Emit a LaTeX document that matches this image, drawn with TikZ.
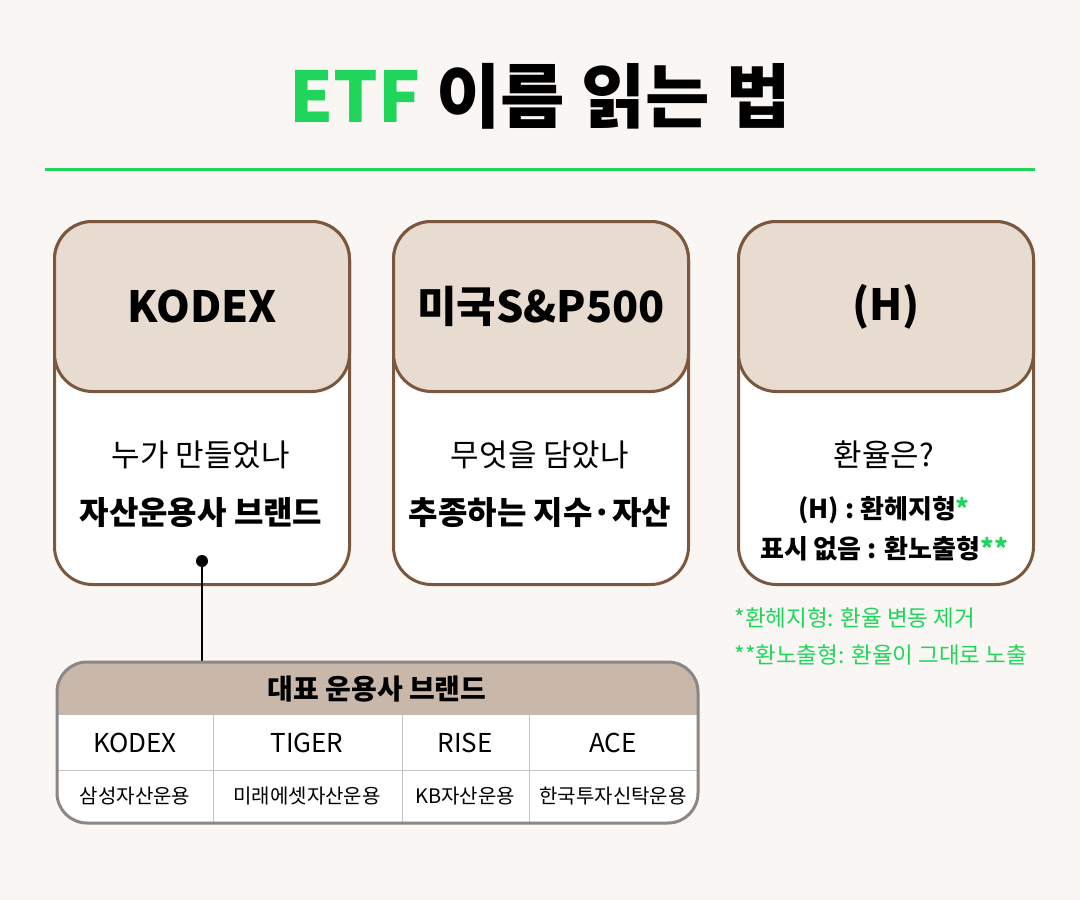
\documentclass[tikz,border=0pt]{standalone}
\usepackage{fontspec}
\setmainfont{Noto Sans CJK KR}
\newfontfamily\krblack{Noto Sans CJK KR Black}
\usetikzlibrary{positioning}
\definecolor{bgcol}{HTML}{FAF6F3}
\definecolor{etfgreen}{HTML}{1FD65A}
\definecolor{cardbrown}{HTML}{7A573D}
\definecolor{headfill}{HTML}{E8DBCF}
\definecolor{tabhead}{HTML}{C9B8AA}
\definecolor{tabline}{HTML}{8A8785}
\tikzset{
	card/.style = {draw = cardbrown, line width = 3pt, fill = white, rounded corners = 38pt, minimum width = 295pt, minimum height = 363pt, anchor = north west},
	head/.style = {draw = cardbrown, line width = 3pt, fill = headfill, rounded corners = 38pt, minimum width = 295pt, minimum height = 170pt, anchor = north west, font = \bfseries\fontsize{43}{48}\selectfont},
	ask/.style = {font = \fontsize{31}{34}\selectfont},
	ans/.style = {font = \bfseries\fontsize{32}{35}\selectfont},
	small/.style = {font = \bfseries\fontsize{26}{30}\selectfont},
	note/.style = {text = etfgreen, anchor = west, font = \fontsize{22.5}{26}\selectfont},
	cell/.style = {font = \fontsize{26}{30}\selectfont},
	subcell/.style = {font = \fontsize{20}{24}\selectfont},
}
\begin{document}
\begin{tikzpicture}[x = 1pt, y = -1pt]
	\fill[bgcol] (0,0) rectangle (1080,900);
	\useasboundingbox (0,0) rectangle (1080,900);
	% title
	\node (title) at (540,96) {\krblack\fontsize{70}{78}\selectfont\textcolor{etfgreen}{ETF} 이름 읽는 법};
	\coordinate (ruleL) at (45,169);
	\coordinate (ruleR) at (1035,169);
	\draw[etfgreen, line width = 3pt] (ruleL) -- (ruleR);
	% cards
	\node[card] (c1) at (53,220) {};
	\node[head] (h1) at (53,220) {KODEX};
	\node[card] (c2) at (392,220) {};
	\node[head] (h2) at (392,220) {미국S\&P500};
	\node[card] (c3) at (737,220) {};
	\node[head] (h3) at (737,220) {(H)};
	\node[ask] (q1) at (201,455) {누가 만들었나};
	\node[ans] (a1) at (201,513) {자산운용사 브랜드};
	\node[ask] (q2) at (540,455) {무엇을 담았나};
	\node[ans] (a2) at (540,513) {추종하는 지수·자산};
	\node[ask] (q3) at (884,455) {환율은?};
	\node[small] (a3) at (884,510) {(H) : 환헤지형\textcolor{etfgreen}{*}};
	\node[small] (b3) at (884,549) {표시 없음 : 환노출형\textcolor{etfgreen}{**}};
	\node[note] (n1) at (731,618) {*환헤지형: 환율 변동 제거};
	\node[note] (n2) at (731,655) {**환노출형: 환율이 그대로 노출};
	% table
	\coordinate (dot) at (202,561);
	\coordinate (tabtop) at (202,662);
	\draw[line width = 2pt] (dot) -- (tabtop);
	\fill (dot) circle (6pt);
	\begin{scope}
		\clip[rounded corners = 30pt] (57,662) rectangle (698,823);
		\fill[white] (57,662) rectangle (698,823);
		\fill[tabhead] (57,662) rectangle (698,715);
		\draw[tabline!50, line width = 1pt] (57,770) -- (698,770);
		\foreach \x in {213,402,529} \draw[tabline!50, line width = 1pt] (\x,715) -- (\x,823);
	\end{scope}
	\draw[tabline, line width = 3pt, rounded corners = 30pt] (57,662) rectangle (698,823);
	\node[font = \bfseries\fontsize{28}{32}\selectfont] (th) at (377,689) {대표 운용사 브랜드};
	\node[cell] (k1) at (135,743) {KODEX};
	\node[cell] (k2) at (307,743) {TIGER};
	\node[cell] (k3) at (465,743) {RISE};
	\node[cell] (k4) at (613,743) {ACE};
	\node[subcell] (s1) at (135,796) {삼성자산운용};
	\node[subcell] (s2) at (307,796) {미래에셋자산운용};
	\node[subcell] (s3) at (465,796) {KB자산운용};
	\node[subcell] (s4) at (613,796) {한국투자신탁운용};
\end{tikzpicture}
\end{document}
